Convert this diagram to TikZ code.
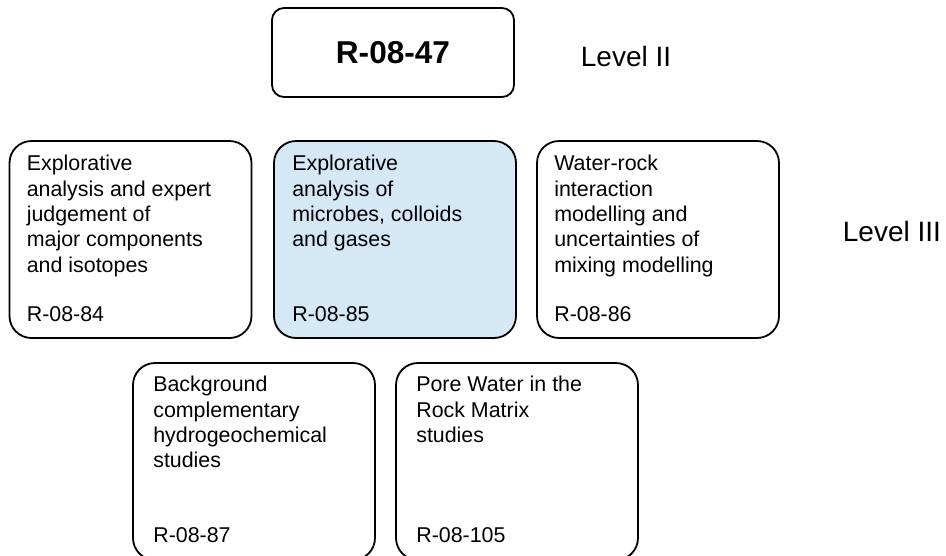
\documentclass[tikz,border=0pt]{standalone}
\usepackage{fontspec}
\setmainfont{Liberation Sans}
\usepackage{xcolor}
\usetikzlibrary{calc,positioning}

\definecolor{hlblue}{RGB}{213,232,246}

\begin{document}
\begin{tikzpicture}[
    x=1pt, y=-1pt,
    box/.style={rectangle, draw=black, line width=1.8pt, rounded corners=22pt, minimum width=242pt, minimum height=197pt, inner sep=0pt},
    boxtop/.style={rectangle, draw=black, line width=1.8pt, rounded corners=12pt, minimum width=242pt, minimum height=89pt, font=\fontsize{31.6}{38}\selectfont\bfseries},
    txt/.style={anchor=north west, align=left, inner sep=0pt, font=\fontsize{21.4}{25.3}\selectfont},
    reftxt/.style={anchor=base west, inner sep=0pt, font=\fontsize{21.4}{25.3}\selectfont},
    level/.style={anchor=base west, inner sep=0pt, font=\fontsize{28}{34}\selectfont}
]
    \clip (0,0) rectangle (946,555);

    % level II
    \node [boxtop] (top) at (393,52.5) {R-08-47};
    \node [level] (lvl2) at (580.7,66.7) {Level II};

    % level III, first row
    \node [box] (a) at (130.5,239.5) {};
    \node [box, fill=hlblue] (b) at (395,239.5) {};
    \node [box] (c) at (658,239.5) {};
    \node [level] (lvl3) at (842.7,241.7) {Level III};

    % level III, second row (runs past the bottom edge)
    \node [box] (d) at (254,461.5) {};
    \node [box] (e) at (517,461.5) {};

    % titles
    \node [txt] (a-txt) at ($(a.north west)+(18,15)$) {Explorative\\analysis and expert\\judgement of\\major components\\and isotopes};
    \node [txt] (b-txt) at ($(b.north west)+(19,15)$) {Explorative\\analysis of\\microbes, colloids\\and gases};
    \node [txt] (c-txt) at ($(c.north west)+(18,15)$) {Water-rock\\interaction\\modelling and\\uncertainties of\\mixing modelling};
    \node [txt] (d-txt) at ($(d.north west)+(21,14)$) {Background\\complementary\\hydrogeochemical\\studies};
    \node [txt] (e-txt) at ($(e.north west)+(21,14)$) {Pore Water in the\\Rock Matrix\\studies};

    % report numbers
    \node [reftxt] (a-ref) at ($(a.south west)+(18,-17)$) {R-08-84};
    \node [reftxt] (b-ref) at ($(b.south west)+(19,-17)$) {R-08-85};
    \node [reftxt] (c-ref) at ($(c.south west)+(18,-17)$) {R-08-86};
    \node [reftxt] (d-ref) at ($(d.south west)+(21,-18)$) {R-08-87};
    \node [reftxt] (e-ref) at ($(e.south west)+(21,-18)$) {R-08-105};
\end{tikzpicture}
\end{document}
